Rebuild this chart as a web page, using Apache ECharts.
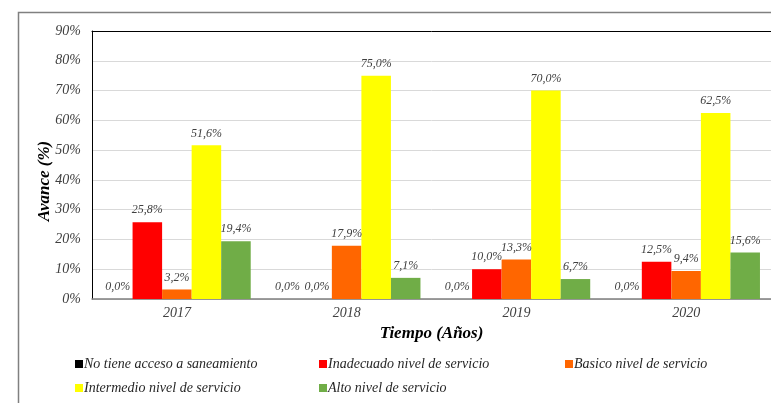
<!DOCTYPE html>
<html>
<head>
<meta charset="utf-8">
<script src="https://cdn.jsdelivr.net/npm/echarts@6/dist/echarts.min.js"></script>
<style>html,body{margin:0;padding:0;background:#fff;}#c{width:771px;height:403px;}</style>
</head>
<body>
<div id="c"></div>
<script>
const categories = ['2017', '2018', '2019', '2020'];
const seriesNames = ['No tiene acceso a saneamiento', 'Inadecuado nivel de servicio', 'Basico nivel de servicio', 'Intermedio nivel de servicio', 'Alto nivel de servicio'];
const noAcceso = [0.0, 0.0, 0.0, 0.0];
const inadecuado = [25.8, 0.0, 10.0, 12.5];
const basico = [3.2, 17.9, 13.3, 9.4];
const intermedio = [51.6, 75.0, 70.0, 62.5];
const alto = [19.4, 7.1, 6.7, 15.6];
const yTicks = [0, 10, 20, 30, 40, 50, 60, 70, 80, 90];

const colors = ['#000000', '#ff0000', '#ff6600', '#ffff00', '#70ad47'];
const values = [noAcceso, inadecuado, basico, intermedio, alto];
const FONT = '"Liberation Serif", "Times New Roman", serif';
const TXT = '#404040';

const chart = echarts.init(document.getElementById('c'), null, {renderer: 'canvas'});

const legendPos = [[70, 352], [314, 352], [560, 352], [70, 376], [314, 376]];
const legends = seriesNames.map((n, i) => ({
  data: [n], left: legendPos[i][0], top: legendPos[i][1],
  itemWidth: 8, itemHeight: 8, itemGap: 2, icon: 'rect', selectedMode: false,
  textStyle: {fontFamily: FONT, fontStyle: 'italic', fontSize: 14, color: '#262626', padding: [0, 0, 0, -4]}
}));

const option = {
  animation: false,
  color: colors,
  textStyle: {fontFamily: FONT},
  grid: {left: 92, top: 31, width: 684, height: 268, containLabel: false},
  legend: legends,
  graphic: [
    {type: 'rect', left: 16, top: 10, shape: {width: 800, height: 450}, style: {fill: 'none', stroke: '#808080', lineWidth: 1.5}, z: -10},
    {type: 'text', x: 45, y: 181, rotation: Math.PI / 2,
     style: {text: 'Avance (%)', font: 'italic bold 17px "Liberation Serif", serif', fill: '#000', textAlign: 'center', textVerticalAlign: 'middle'}}
  ],
  xAxis: [{
    type: 'category', data: categories, position: 'bottom',
    axisLine: {show: true, lineStyle: {color: '#7f7f7f', width: 1.5}},
    axisTick: {show: false},
    axisLabel: {fontFamily: FONT, fontStyle: 'italic', fontSize: 14, color: TXT, margin: 7},
    name: 'Tiempo (Años)', nameLocation: 'middle', nameGap: 24,
    nameTextStyle: {fontFamily: FONT, fontStyle: 'italic', fontWeight: 'bold', fontSize: 17, color: '#000'}
  }, {
    type: 'category', data: categories, position: 'top',
    axisLine: {show: true, lineStyle: {color: '#000', width: 1}},
    axisTick: {show: false}, axisLabel: {show: false}
  }],
  yAxis: {
    type: 'value', min: 0, max: 90, interval: 10,
    axisLine: {show: true, lineStyle: {color: '#000', width: 1}},
    axisTick: {show: false},
    axisLabel: {fontFamily: FONT, fontStyle: 'italic', fontSize: 14, color: TXT, margin: 11,
      formatter: v => yTicks.includes(v) ? v + '%' : ''},
    splitLine: {show: true, lineStyle: {color: '#d9d9d9', width: 1}}
  },
  series: seriesNames.map((n, i) => ({
    name: n, type: 'bar', data: values[i],
    barGap: '0%', barCategoryGap: '13%',
    itemStyle: {color: colors[i]},
    label: {show: true, position: 'top', distance: 6,
      fontFamily: FONT, fontStyle: 'italic', fontSize: 12, color: TXT,
      formatter: p => p.value.toFixed(1).replace('.', ',') + '%'}
  }))
};
chart.setOption(option);
</script>
</body>
</html>
